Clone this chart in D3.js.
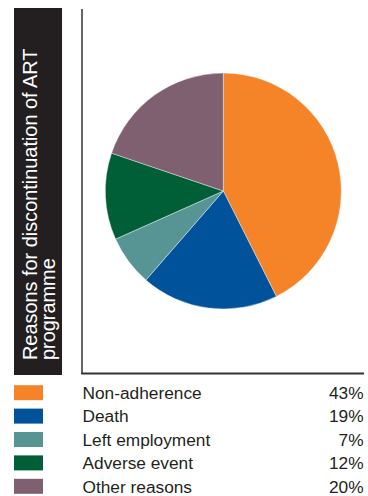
<!DOCTYPE html>
<html>
<head>
<meta charset="utf-8">
<script src="https://cdn.jsdelivr.net/npm/d3@7"></script>
<style>
  html, body { margin: 0; padding: 0; background: #fff; }
  svg { display: block; }
</style>
</head>
<body>
<svg id="chart" width="368" height="496"></svg>
<script>
// Reasons for discontinuing the ART programme
const categories = ["Non-adherence", "Death", "Left employment", "Adverse event", "Other reasons"];
const shares = [43, 19, 7, 12, 20];
const shareLabels = ["43%", "19%", "7%", "12%", "20%"];
const colors = ["#F58428", "#00529B", "#579595", "#005F37", "#7F6070"];
const titleLines = ["Reasons for discontinuation of ART", "programme"];

const svg = d3.select("#chart");
const font = "'Liberation Sans', Arial, Helvetica, sans-serif";
const ink = "#231f20";

// Dark title band with rotated heading
svg.append("rect")
  .attr("x", 14).attr("y", 8).attr("width", 48).attr("height", 367)
  .attr("fill", ink);

const title = svg.append("text")
  .attr("transform", "translate(37,360) rotate(-90)")
  .attr("fill", "#fff")
  .attr("font-family", font)
  .attr("font-size", 19.9);
title.selectAll("tspan").data(titleLines).join("tspan")
  .attr("x", 0)
  .attr("dy", (d, i) => i === 0 ? 0 : 18.4)
  .text(d => d);

// Frame: left and bottom rule
svg.append("line")
  .attr("x1", 82).attr("x2", 82).attr("y1", 9).attr("y2", 374)
  .attr("stroke", "#333").attr("stroke-width", 1.5);
svg.append("line")
  .attr("x1", 81.25).attr("x2", 364).attr("y1", 373.5).attr("y2", 373.5)
  .attr("stroke", "#333").attr("stroke-width", 1.8);

// Pie
const cx = 223.3, cy = 191, radius = 118;
const pie = d3.pie().sort(null).value(d => d)(shares);
const arc = d3.arc().innerRadius(0).outerRadius(radius);
svg.append("g")
  .attr("transform", `translate(${cx},${cy})`)
  .selectAll("path").data(pie).join("path")
  .attr("d", arc)
  .attr("fill", (d, i) => colors[i])
  .attr("stroke", "#fff")
  .attr("stroke-width", 0.4);

// Legend
const rowY = d3.scaleLinear().domain([0, 1]).range([399, 422.4]);
const legend = svg.append("g");
const rows = legend.selectAll("g").data(categories).join("g")
  .attr("transform", (d, i) => `translate(0,${rowY(i)})`);
rows.append("rect")
  .attr("x", 14).attr("y", -13.8).attr("width", 29).attr("height", 15)
  .attr("fill", (d, i) => colors[i]);
rows.append("text")
  .attr("x", 82.5).attr("y", 0)
  .attr("font-family", font).attr("font-size", 17.3)
  .attr("fill", ink)
  .text(d => d);
rows.append("text")
  .attr("x", 363.5).attr("y", 0)
  .attr("text-anchor", "end")
  .attr("font-family", font).attr("font-size", 17.3)
  .attr("fill", ink)
  .text((d, i) => shareLabels[i]);
</script>
</body>
</html>
